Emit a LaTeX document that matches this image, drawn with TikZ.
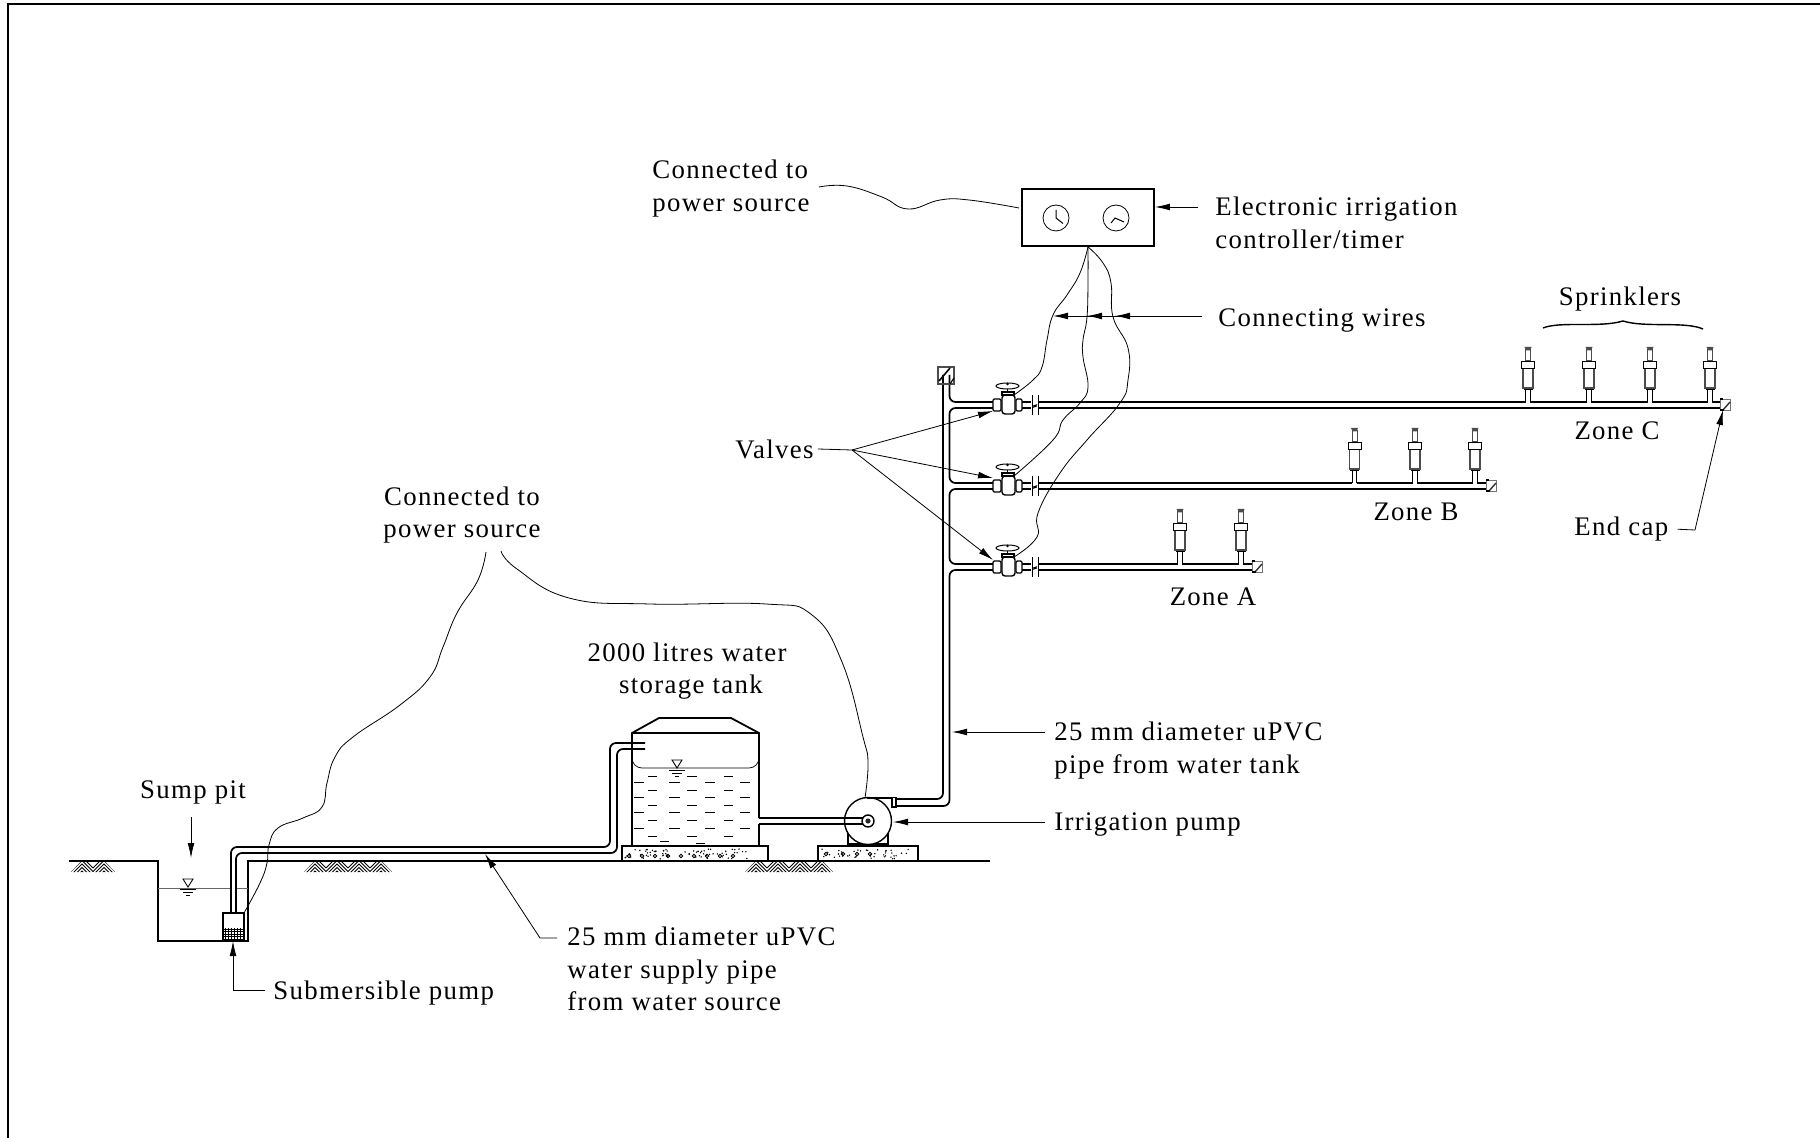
\documentclass[tikz,border=0pt]{standalone}
\usepackage{fontspec}
\setmainfont[LetterSpace=5]{Liberation Serif}
\usetikzlibrary{arrows.meta,positioning}
\tikzset{
  lbl/.style={font=\fontsize{13.4}{16.25}\selectfont, align=left, inner sep=2pt, anchor=west},
  lblc/.style={lbl, align=center, anchor=center},
  lead/.style={line width=.4pt, -{Latex[length=7.5pt,width=3.4pt]}},
  gap/.style={shorten <=2.5pt},
  plain/.style={line width=.4pt},
  wire/.style={line width=.4pt},
  pipe/.style={line width=.85pt, rounded corners=3pt},
  wall/.style={line width=.8pt},
  pics/valve/.style={code={
    \coordinate (-top) at (6.5,-10);
    \draw[line width=.6pt, fill=white, rounded corners=.6pt] (-14.5,-6) rectangle (-6.5,6);
    \draw[line width=.6pt, fill=white, rounded corners=.6pt] (8.5,-6) rectangle (14.5,6);
    \draw[line width=.7pt, fill=white, rounded corners=1.5pt] (-5.5,-10) rectangle (7.5,9);
    \draw[line width=.8pt, fill=white] (-5.5,-13) rectangle (6.5,-10);
    \draw[line width=.8pt] (0,-22) -- (0,-13);
    \draw[line width=.5pt, fill=white] (0,-19) ellipse (11.5 and 3);
    \fill (0,-21) circle (1.4);
  }},
  pics/sprinkler/.style={code={
    \fill[white] (-2.3,-1) rectangle (2.3,1);
    \draw[line width=.6pt] (-2.3,.5) -- (-2.3,-12) (2.3,.5) -- (2.3,-12);
    \draw[line width=.5pt, fill=white] (-4,-14) rectangle (4,-12);
    \draw[line width=.6pt, draw=black!70, fill=white] (-5,-34) rectangle (5,-14);
    \draw[line width=.45pt, fill=white] (-6.5,-41) rectangle (6.5,-34);
    \draw[line width=.5pt, draw=black!70] (-2.5,-52) rectangle (2.5,-41);
    \fill[black!70] (-3.5,-55) -- (3.5,-55) -- (2,-51.5) -- (-2,-51.5) -- cycle;
  }},
  pics/endcap/.style={code={
    \draw[line width=.45pt, draw=black!55, fill=white] (0,-3) rectangle (10,8);
    \draw[line width=.7pt, draw=black!80] (3,8) -- (10,0);
    \draw[line width=1pt] (0,-3) -- (3,-3) (0,8) -- (4,8);
  }},
  pics/level/.style={code={
    \draw[line width=.45pt, fill=white] (-5,-9) -- (5,-9) -- (0,-1) -- cycle;
    \draw[line width=.4pt] (-8,1.5) -- (8,1.5) (-5,4) -- (5,4) (-2,7) -- (2,7);
  }},
  pics/soil/.style={code={
    \begin{scope}
      \clip (10,.5) -- ({#1*22-10},.5) -- ({#1*22},11) -- (0,11) -- cycle;
      \foreach \k in {1,...,#1}
        \foreach \d in {-4,-.5,3,6.5,10}
          \draw[line width=.4pt] ({(\k-1)*22},{\d+11}) -- ({(\k-1)*22+11},{\d}) -- ({\k*22},{\d+11});
    \end{scope}
  }},
}
\begin{document}
\begin{tikzpicture}[x=.5pt,y=-.5pt]
  \useasboundingbox (0,0) rectangle (1820,1138);
  \draw[line width=1.1pt] (8,1138) -- (8,4) -- (1820,4);
  % ground and sump
  \draw[wall] (69,861) -- (158,861) -- (158,941) -- (248,941) -- (248,861) -- (990,861);
  \draw[line width=.5pt, black!60] (158,888) -- (231,888) (236,888) -- (248,888);
  \pic at (71,861) {soil=2};
  \pic at (304,861) {soil=4};
  \pic at (745,861) {soil=4};
  \pic at (188,888) {level};
  % tank
  \draw[line width=.7pt] (622,861) -- (622,846) -- (768,846) -- (768,861);
  \draw[line width=.7pt] (818,861) -- (818,846) -- (918,846) -- (918,861);
  \pgfmathsetseed{11}
  \foreach \k in {1,...,70} {
    \pgfmathsetmacro\sx{625+125*rnd}
    \pgfmathsetmacro\sy{849+10*rnd}
    \fill (\sx,\sy) circle (.8);
  }
  \foreach \x in {629,642,655,668,681,694,707,720,733}
    \draw[line width=.4pt] (\x,856) circle (1.8);
  \foreach \k in {1,...,42} {
    \pgfmathsetmacro\sx{821+88*rnd}
    \pgfmathsetmacro\sy{849+10*rnd}
    \fill (\sx,\sy) circle (.8);
  }
  \foreach \x in {826,843,857,870}
    \draw[line width=.4pt] (\x,854) circle (1.8);
  \draw[line width=.9pt] (632,846) -- (632,733) -- (659,718) -- (731,718) -- (759,733) -- (759,818);
  \draw[line width=.9pt] (759,824) -- (759,846) -- (632,846);
  \draw[line width=.9pt] (632,733) -- (759,733);
  \draw[line width=.35pt, rounded corners=5pt] (632,760) -- (632,768) -- (759,768) -- (759,760);
  \pic at (677,769) {level};
  \foreach \y in {782.7,797.3,812.7,828.3}
    \foreach \a/\b in {634.3/644.3,669.3/680,705/715,740/750}
      \draw[line width=.45pt] (\a,\y) -- (\b,\y);
  \foreach \y in {776.7,790,805.3,820,836}
    \foreach \a/\b in {648.3/656.7,687.3/696.7,724.3/732.7}
      \draw[line width=.45pt] (\a,\y) -- (\b,\y);
  \foreach \a/\b/\y in {660/669/841.3,695.7/705/843.3,731.7/740/845}
    \draw[line width=.45pt] (\a,\y) -- (\b,\y);
  % supply pipe and submersible pump
  \draw[pipe] (231,913) -- (231,847) -- (610,847) -- (610,743) -- (645,743);
  \draw[pipe] (236,913) -- (236,853) -- (617,853) -- (617,749) -- (645,749);
  \draw[line width=.9pt, fill=white] (223,913) rectangle (244,940);
  \foreach \x in {225.5,228.5,...,242.5}
    \draw[line width=.5pt] (\x,928) -- (\x,939);
  \foreach \y in {929,931.5,...,939}
    \draw[line width=.4pt] (224,\y) -- (243,\y);
  % irrigation pump
  \draw[line width=.7pt] (848,832) -- (848,846) (888,832) -- (888,846);
  \draw[line width=.9pt] (848,844) -- (888,844);
  \draw[line width=.7pt, fill=white] (868,821) circle (23.5);
  \draw[line width=.7pt] (867,798) -- (892,798);
  \draw[line width=.7pt, fill=white] (892,797.5) rectangle (896,807);
  \draw[pipe] (759,818) -- (866,818);
  \draw[pipe] (759,824) -- (866,824);
  \draw[line width=.7pt, fill=white] (868,821) circle (6);
  \fill[black!85] (868,821) circle (2.6);
  % riser and zone pipes
  \draw[pipe] (943,375) -- (943,799) -- (896,799);
  \draw[pipe] (949.5,375) -- (949.5,402) -- (993,402);
  \draw[pipe] (993,408) -- (949.5,408) -- (949.5,483) -- (993,483);
  \draw[pipe] (993,489) -- (949.5,489) -- (949.5,564) -- (993,564);
  \draw[pipe] (993,570) -- (949.5,570) -- (949.5,806) -- (896,806);
  \draw[line width=.6pt, draw=black!70] (938,367) rectangle (954,384);
  \draw[line width=.8pt] (939,381) -- (950,368);
  \draw[line width=.6pt] (950,384) -- (954,378);
  \foreach \n/\y/\e in {c/402/1720,b/483/1486,a/564/1252} {
    \draw[pipe] (1022,\y) -- (1031,\y) (1039,\y) -- (\e,\y);
    \draw[pipe] (1022,\y+6) -- (1031,\y+6) (1039,\y+6) -- (\e,\y+6);
    \draw[line width=.5pt] (1032,\y-7) -- (1032,\y+13) (1038,\y-7) -- (1038,\y+13);
    \draw[line width=.4pt] (1033,\y+4) -- (1036,\y+3) -- (1034,\y+5) -- (1037,\y+4);
    \pic (v\n) at (1007.5,\y+3) {valve};
    \pic at (\e,\y) {endcap};
  }
  \foreach \x/\y in {1528/402,1589/402,1650/402,1710/402,1354.5/483,1415/483,1475/483,1180/564,1241/564}
    \pic at (\x,\y) {sprinkler};
  % controller
  \node[draw, line width=.9pt, minimum width=66pt, minimum height=28.5pt, inner sep=0pt] (timer) at (1088,217.5) {};
  \draw[line width=.4pt] (1056,218) circle (13);
  \draw[line width=.5pt] (1056,210) -- (1056,218) -- (1063,223.5);
  \draw[line width=.4pt] (1116,218) circle (13);
  \draw[line width=.5pt] (1111,223) -- (1115,218) -- (1124,222);
  % labels
  \node[lbl] (pwrtop) at (648,188.5) {Connected to\\power source};
  \node[lbl] (lbltimer) at (1211,223) {Electronic irrigation\\controller/timer};
  \node[lbl] (lblwires) at (1214,321) {Connecting wires};
  \node[lblc] (lblspr) at (1620,299) {Sprinklers};
  \node[lblc] (zonec) at (1617,430.5) {Zone C};
  \node[lblc] (zoneb) at (1416,512) {Zone B};
  \node[lblc] (zonea) at (1213,597) {Zone A};
  \node[lbl] (lblcap) at (1570,529) {End cap};
  \node[lbl] (lblvalves) at (731,449) {Valves};
  \node[lblc] (pwrlow) at (462,515) {Connected to\\power source};
  \node[lblc] (lbltank) at (687,671) {2000 litres water\\\hspace*{4pt}storage tank};
  \node[lblc] (lblsump) at (193,792) {Sump pit};
  \node[lbl] (lblsub) at (269,993) {Submersible pump};
  \node[lbl] (lblsupply) at (563,969) {25 mm diameter uPVC\\water supply pipe\\from water source};
  \node[lbl] (lblriser) at (1050,750.5) {25 mm diameter uPVC\\pipe from water tank};
  \node[lbl] (lblpump) at (1050,825) {Irrigation pump};
  % wires
  \draw[wire] plot[smooth,tension=.75] coordinates {(819,187) (847,186) (882,197) (908,209) (940,200) (969,200) (1019,208)};
  \draw[wire] plot[smooth,tension=.75] coordinates {(timer.south) (1080,273) (1067,295) (1053,315) (1047,340) (1042,367) (1033,380) (vc-top)};
  \draw[wire] plot[smooth,tension=.75] coordinates {(timer.south) (1088,280) (1087,317) (1083,340) (1083,357) (1088,387) (1080,403) (1063,420) (1053,440) (vb-top)};
  \draw[wire] plot[smooth,tension=.75] coordinates {(timer.south) (1103,263) (1111,283) (1113,317) (1128,348) (1128,380) (1120,403) (1087,440) (1060,473) (1038,513) (1037,537) (va-top)};
  \draw[wire] plot[smooth,tension=.75] coordinates {(486,552) (478,580) (457,613) (443,647) (430,677) (400,705) (353,737) (335,757) (327,783) (322,807) (303,818) (278,828) (269,845) (267,863) (260,883) (244,913)};
  \draw[wire] plot[smooth,tension=.75] coordinates {(501,551) (517,569) (569,598) (650,604) (766,604) (812,615) (842,662) (863,737) (868,763) (865,798)};
  % leaders
  \coordinate (ltimer) at (1198,207);
  \draw[lead] (ltimer) -- (ltimer-|timer.east);
  \coordinate (wirefrom) at (1202,316);
  \foreach \x in {1053,1087,1115} {
    \coordinate (twire) at (\x,316);
    \draw[lead] (wirefrom) -- (twire);
  }
  \draw[line width=.7pt] (1543,328) .. controls (1560,321) and (1600,328) .. (1623,321) .. controls (1645,328) and (1685,321) .. (1703,329);
  \coordinate (capbend) at (1695,530);
  \coordinate (captip) at (1723,410);
  \draw[lead, gap] (lblcap.east) -- (capbend) -- (captip);
  \coordinate (vbend) at (852,450);
  \draw[plain] (lblvalves.east) -- (vbend);
  \foreach \y in {411,478,560} {
    \coordinate (vtip) at (993,\y);
    \draw[lead] (vbend) -- (vtip);
  }
  \coordinate (sumpa) at (191,817);
  \coordinate (sumpb) at (191,858);
  \draw[lead] (sumpa) -- (sumpb);
  \coordinate (subtip) at (233,941);
  \coordinate (subfrom) at (265,990);
  \draw[lead] (subfrom) -| (subtip);
  \coordinate (supa) at (557,938);
  \coordinate (supb) at (540,938);
  \coordinate (suptip) at (485,854);
  \draw[lead] (supa) -- (supb) -- (suptip);
  \coordinate (risa) at (1045,732);
  \coordinate (ristip) at (952,732);
  \draw[lead] (risa) -- (ristip);
  \coordinate (pmpa) at (1045,822);
  \coordinate (pmptip) at (893,822);
  \draw[lead] (pmpa) -- (pmptip);
\end{tikzpicture}
\end{document}
